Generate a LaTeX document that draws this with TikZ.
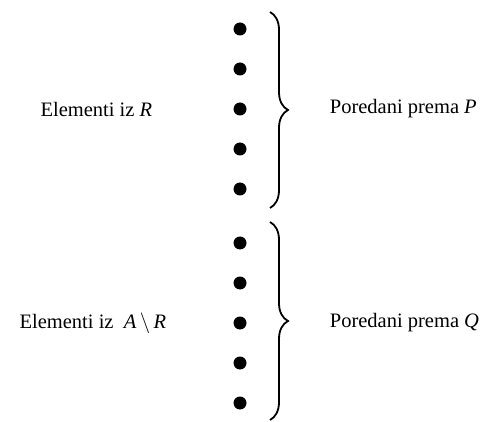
\documentclass[tikz,border=0pt]{standalone}
\usepackage{fontspec}
\setmainfont{Liberation Serif}
\usepackage{amssymb}
\usetikzlibrary{positioning,decorations.pathreplacing}

\begin{document}
\begin{tikzpicture}[x=1pt,y=1pt,node distance=40pt,
  dot/.style={circle,fill=black,inner sep=0pt,minimum size=13pt},
  label text/.style={font=\fontsize{20.5}{25}\selectfont,inner sep=0pt},
  curly/.style={decorate,decoration={brace,amplitude=18pt,aspect=0.5},line width=1.8pt}]
  \useasboundingbox (0,0) rectangle (482,-422);

  \node[dot] (1) at (240,-29) {};
  \node[dot] (2) [below of=1] {};
  \node[dot] (3) [below of=2] {};
  \node[dot] (4) [below of=3] {};
  \node[dot] (5) [below of=4] {};
  \node[dot] (6) at (240,-243) {};
  \node[dot] (7) [below of=6] {};
  \node[dot] (8) [below of=7] {};
  \node[dot] (9) [below of=8] {};
  \node[dot] (10) [below of=9] {};

  \coordinate (top1) at (270,-12);
  \coordinate (bot1) at (270,-208);
  \coordinate (top2) at (270,-222);
  \coordinate (bot2) at (270,-420);

  \draw[curly] (top1) -- (bot1);
  \draw[curly] (top2) -- (bot2);

  \node[label text] (r) [left=81pt of 3] {Elementi iz \textit{R}};
  \node[label text] (p) [right=83pt of 3] {Poredani prema \textit{P}};
  \node[label text] (ar) [left=67pt of 8] {Elementi iz\ \ \textit{A}\,$\setminus$\,\textit{R}};
  \node[label text] (q) [right=83pt of 8] {Poredani prema \textit{Q}};

\end{tikzpicture}
\end{document}
